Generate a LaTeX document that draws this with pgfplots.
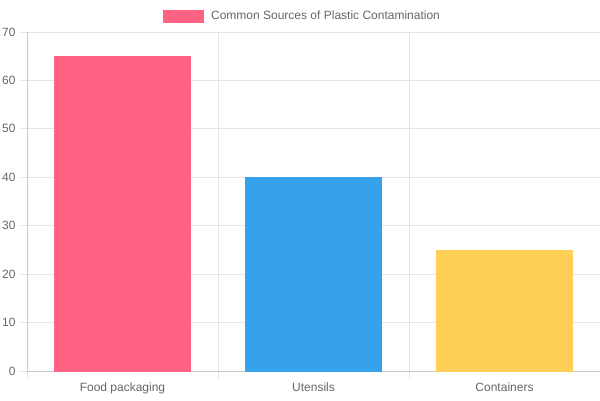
\documentclass[border=0pt]{standalone}
\usepackage{pgfplots}
\pgfplotsset{compat=1.18}
\usepackage{fontspec}
\setmainfont{Liberation Sans}
\definecolor{txt}{HTML}{666666}
\definecolor{gridc}{HTML}{E5E5E5}
\definecolor{axc}{HTML}{C8C8C8}
\definecolor{cpink}{HTML}{FF6384}
\definecolor{cblue}{HTML}{36A2EB}
\definecolor{cyellow}{HTML}{FFCE56}
\begin{document}
\begin{tikzpicture}[x=1pt,y=1pt]
\path[use as bounding box] (0,0) rectangle (600,400);
\begin{axis}[
  at={(27pt,29pt)}, anchor=south west,
  scale only axis, width=573pt, height=339pt,
  font=\fontsize{12}{14}\selectfont, 
  /pgf/number format/assume math mode=true,
  ybar, bar width=0.712, 
  xmin=0, xmax=3, ymin=0, ymax=70,
  ytick distance=10,
  xtick={0.5,1.5,2.5},
  xticklabels={Food packaging,Utensils,Containers},
  minor xtick={0,1,2,3},
  xminorgrids, ymajorgrids,
  grid style={gridc, line width=0.8pt},
  minor grid style={gridc, line width=0.8pt},
  axis lines*=left,
  axis line style={axc, line width=0.8pt},
  tick align=outside,
  major tick length=7pt, minor tick length=8pt,
  major x tick style={draw=none},
  minor x tick style={gridc, line width=0.8pt},
  y tick style={gridc, line width=0.8pt},
  ticklabel style={text=txt},
  yticklabel style={xshift=-1pt},
  xticklabel style={yshift=-1pt},
  legend style={draw=none, fill=none, at={(axis description cs:0.4805,1.047)}, anchor=center,
    font=\fontsize{12}{14}\selectfont, text=txt, inner sep=0pt},
  legend image code/.code={\fill[#1] (0pt,-6pt) rectangle (40pt,6pt); \path (46pt,0pt);},
]
\addplot[fill=cpink, draw=cpink, bar shift=0] coordinates {(0.5,65)};
\addlegendentry{Common Sources of Plastic Contamination}
\addplot[fill=cblue, draw=cblue, bar shift=0, forget plot] coordinates {(1.5,40)};
\addplot[fill=cyellow, draw=cyellow, bar shift=0, forget plot] coordinates {(2.5,25)};
\end{axis}
\end{tikzpicture}
\end{document}
